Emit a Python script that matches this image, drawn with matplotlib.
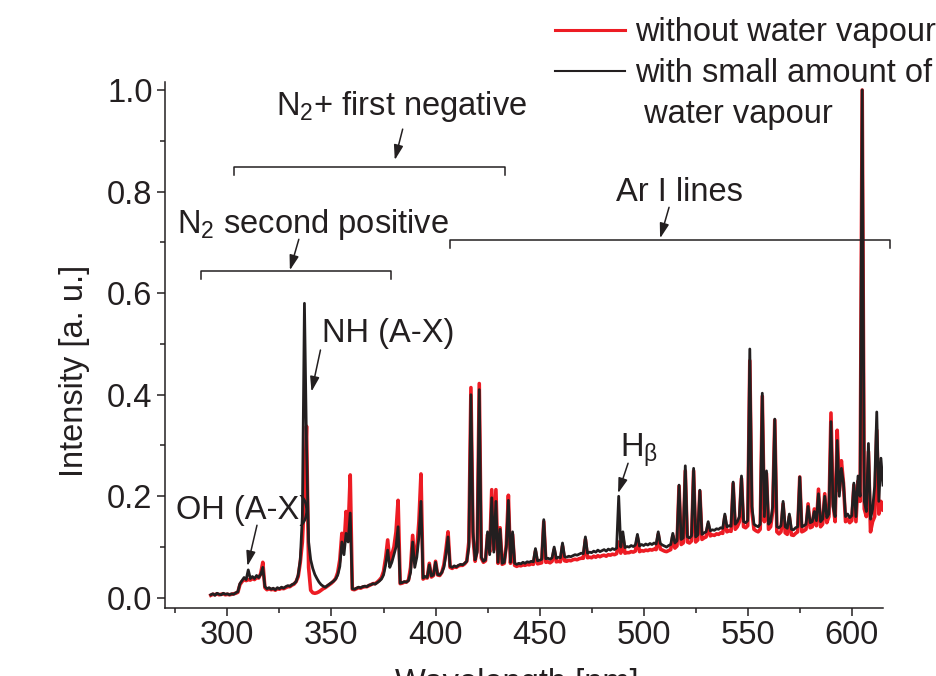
import numpy as np
import matplotlib
matplotlib.use("Agg")
import matplotlib.pyplot as plt
from matplotlib.lines import Line2D

plt.rcParams['font.family'] = ['Liberation Sans', 'DejaVu Sans']
plt.rcParams['mathtext.default'] = 'regular'

# spectra sampled every 1 nm from 292 to 615 nm
wavelength = np.arange(292, 616)

with_water = [
    0.006, 0.008, 0.005, 0.009, 0.007, 0.006, 0.009, 0.007, 0.008, 0.006,  # 292
    0.008, 0.007, 0.010, 0.012, 0.028, 0.034, 0.040, 0.036, 0.055, 0.038,  # 302
    0.042, 0.038, 0.044, 0.040, 0.046, 0.060, 0.022, 0.018, 0.020, 0.017,  # 312
    0.019, 0.016, 0.020, 0.018, 0.021, 0.019, 0.022, 0.024, 0.023, 0.026,  # 322
    0.028, 0.032, 0.045, 0.075, 0.160, 0.580, 0.300, 0.110, 0.075, 0.058,  # 332
    0.046, 0.038, 0.031, 0.026, 0.023, 0.021, 0.024, 0.027, 0.030, 0.033,  # 342
    0.037, 0.045, 0.062, 0.110, 0.085, 0.127, 0.110, 0.167, 0.018, 0.017,  # 352
    0.019, 0.021, 0.020, 0.022, 0.023, 0.022, 0.025, 0.026, 0.028, 0.027,  # 362
    0.030, 0.033, 0.037, 0.045, 0.065, 0.094, 0.060, 0.070, 0.085, 0.100,  # 372
    0.140, 0.029, 0.030, 0.032, 0.031, 0.034, 0.050, 0.110, 0.060, 0.080,  # 382
    0.120, 0.190, 0.039, 0.042, 0.040, 0.065, 0.043, 0.045, 0.070, 0.046,  # 392
    0.045, 0.050, 0.060, 0.085, 0.120, 0.062, 0.060, 0.063, 0.061, 0.064,  # 402
    0.066, 0.065, 0.068, 0.072, 0.100, 0.400, 0.130, 0.075, 0.090, 0.410,  # 412
    0.080, 0.072, 0.075, 0.130, 0.085, 0.197, 0.090, 0.190, 0.070, 0.135,  # 422
    0.068, 0.070, 0.100, 0.192, 0.070, 0.130, 0.068, 0.066, 0.068, 0.067,  # 432
    0.070, 0.068, 0.071, 0.070, 0.072, 0.071, 0.097, 0.073, 0.074, 0.076,  # 442
    0.154, 0.077, 0.078, 0.076, 0.079, 0.100, 0.078, 0.080, 0.079, 0.108,  # 452
    0.081, 0.080, 0.082, 0.081, 0.083, 0.085, 0.084, 0.086, 0.088, 0.087,  # 462
    0.120, 0.088, 0.090, 0.089, 0.092, 0.090, 0.094, 0.091, 0.093, 0.095,  # 472
    0.092, 0.096, 0.094, 0.097, 0.095, 0.098, 0.200, 0.100, 0.130, 0.099,  # 482
    0.101, 0.100, 0.103, 0.101, 0.104, 0.125, 0.102, 0.105, 0.103, 0.106,  # 492
    0.104, 0.107, 0.105, 0.108, 0.106, 0.130, 0.107, 0.104, 0.102, 0.100,  # 502
    0.103, 0.105, 0.127, 0.108, 0.112, 0.222, 0.115, 0.118, 0.260, 0.120,  # 512
    0.118, 0.122, 0.255, 0.120, 0.124, 0.212, 0.125, 0.128, 0.130, 0.150,  # 522
    0.132, 0.134, 0.133, 0.136, 0.135, 0.138, 0.137, 0.165, 0.140, 0.142,  # 532
    0.141, 0.228, 0.145, 0.150, 0.160, 0.240, 0.150, 0.148, 0.152, 0.490,  # 542
    0.180, 0.145, 0.142, 0.140, 0.145, 0.403, 0.160, 0.250, 0.145, 0.150,  # 552
    0.180, 0.352, 0.140, 0.138, 0.142, 0.190, 0.140, 0.137, 0.165, 0.135,  # 562
    0.134, 0.138, 0.140, 0.238, 0.140, 0.142, 0.145, 0.180, 0.148, 0.150,  # 572
    0.170, 0.152, 0.205, 0.150, 0.155, 0.200, 0.158, 0.165, 0.347, 0.180,  # 582
    0.160, 0.310, 0.200, 0.255, 0.226, 0.160, 0.165, 0.158, 0.162, 0.226,  # 592
    0.160, 0.240, 0.200, 1.000, 0.190, 0.170, 0.304, 0.155, 0.175, 0.220,  # 602
    0.366, 0.190, 0.275, 0.222,                                            # 612
]

without_water = [
    0.005, 0.007, 0.006, 0.008, 0.006, 0.007, 0.008, 0.006, 0.007, 0.006,  # 292
    0.007, 0.008, 0.009, 0.011, 0.026, 0.032, 0.036, 0.034, 0.036, 0.035,  # 302
    0.038, 0.036, 0.040, 0.039, 0.048, 0.070, 0.020, 0.016, 0.018, 0.016,  # 312
    0.017, 0.015, 0.018, 0.017, 0.019, 0.018, 0.020, 0.022, 0.022, 0.025,  # 322
    0.027, 0.032, 0.042, 0.070, 0.110, 0.200, 0.338, 0.060, 0.015, 0.010,  # 332
    0.009, 0.010, 0.012, 0.015, 0.018, 0.020, 0.023, 0.026, 0.029, 0.033,  # 342
    0.038, 0.050, 0.075, 0.127, 0.100, 0.170, 0.130, 0.242, 0.017, 0.016,  # 352
    0.018, 0.020, 0.019, 0.021, 0.022, 0.022, 0.024, 0.026, 0.028, 0.028,  # 362
    0.031, 0.035, 0.040, 0.052, 0.078, 0.114, 0.070, 0.085, 0.100, 0.130,  # 372
    0.192, 0.028, 0.029, 0.031, 0.031, 0.035, 0.060, 0.123, 0.070, 0.095,  # 382
    0.150, 0.244, 0.037, 0.040, 0.039, 0.068, 0.041, 0.044, 0.072, 0.045,  # 392
    0.044, 0.050, 0.065, 0.095, 0.130, 0.060, 0.058, 0.061, 0.060, 0.063,  # 402
    0.064, 0.064, 0.067, 0.072, 0.110, 0.414, 0.120, 0.072, 0.095, 0.422,  # 412
    0.078, 0.070, 0.073, 0.125, 0.090, 0.213, 0.095, 0.213, 0.068, 0.138,  # 422
    0.066, 0.068, 0.105, 0.202, 0.068, 0.125, 0.064, 0.062, 0.064, 0.063,  # 432
    0.065, 0.064, 0.066, 0.065, 0.067, 0.066, 0.092, 0.067, 0.068, 0.069,  # 442
    0.150, 0.070, 0.071, 0.069, 0.072, 0.095, 0.071, 0.072, 0.071, 0.102,  # 452
    0.073, 0.072, 0.074, 0.073, 0.075, 0.076, 0.075, 0.077, 0.078, 0.078,  # 462
    0.115, 0.079, 0.080, 0.079, 0.082, 0.080, 0.083, 0.081, 0.083, 0.084,  # 472
    0.082, 0.085, 0.084, 0.086, 0.085, 0.087, 0.110, 0.088, 0.120, 0.088,  # 482
    0.089, 0.089, 0.091, 0.090, 0.092, 0.118, 0.091, 0.093, 0.092, 0.094,  # 492
    0.093, 0.095, 0.094, 0.096, 0.095, 0.125, 0.096, 0.094, 0.092, 0.091,  # 502
    0.093, 0.095, 0.122, 0.098, 0.102, 0.220, 0.105, 0.108, 0.250, 0.110,  # 512
    0.108, 0.112, 0.250, 0.110, 0.114, 0.210, 0.115, 0.118, 0.120, 0.145,  # 522
    0.122, 0.124, 0.123, 0.126, 0.125, 0.128, 0.127, 0.160, 0.130, 0.132,  # 532
    0.131, 0.225, 0.135, 0.140, 0.150, 0.235, 0.140, 0.138, 0.142, 0.467,  # 542
    0.170, 0.135, 0.132, 0.130, 0.135, 0.397, 0.150, 0.245, 0.135, 0.140,  # 552
    0.170, 0.350, 0.130, 0.126, 0.130, 0.185, 0.128, 0.125, 0.160, 0.124,  # 562
    0.123, 0.127, 0.130, 0.238, 0.130, 0.132, 0.135, 0.185, 0.138, 0.140,  # 572
    0.175, 0.142, 0.214, 0.140, 0.145, 0.205, 0.148, 0.160, 0.364, 0.185,  # 582
    0.150, 0.330, 0.210, 0.270, 0.226, 0.150, 0.155, 0.148, 0.152, 0.222,  # 592
    0.150, 0.230, 0.190, 1.000, 0.175, 0.160, 0.288, 0.130, 0.150, 0.160,  # 602
    0.330, 0.165, 0.190, 0.173,                                            # 612
]

series_labels = ["without water vapour", "with small amount of", " water vapour"]

# band brackets: (start nm, end nm, height)
n2_second = (287.2, 378.5, 0.644)
n2_first = (303.0, 433.3, 0.848)
ar_lines = (406.9, 618.4, 0.705)

RED = '#ed1c24'
BLACK = '#231f20'
FS = 23.5

fig = plt.figure(figsize=(9.36, 6.76), dpi=100)
ax = fig.add_axes([165 / 936, 68 / 676, 718 / 936, 525.6 / 676])

ax.plot(wavelength, without_water, color=RED, lw=2.6)
ax.plot(wavelength, with_water, color=BLACK, lw=2.0)

ax.set_xlim(270, 615)
ax.set_ylim(-0.02, 1.015)
ax.set_xticks([300, 350, 400, 450, 500, 550, 600])
ax.set_xticks([275, 325, 375, 425, 475, 525, 575], minor=True)
ax.set_yticks([0.0, 0.2, 0.4, 0.6, 0.8, 1.0])
ax.set_yticks([0.1, 0.3, 0.5, 0.7, 0.9], minor=True)
ax.set_yticklabels(['0.0', '0.2', '0.4', '0.6', '0.8', '1.0'])
for s in ['top', 'right']:
    ax.spines[s].set_visible(False)
for s in ['left', 'bottom']:
    ax.spines[s].set_linewidth(1.1)
    ax.spines[s].set_color(BLACK)
ax.tick_params(which='major', direction='out', length=6, width=1.1,
               labelsize=FS, colors=BLACK, pad=3)
ax.tick_params(which='minor', direction='out', length=3.5, width=1.1, colors=BLACK)

ax.set_ylabel('Intensity [a. u.]', fontsize=FS, color=BLACK)
ax.yaxis.set_label_coords(-0.105, 0.452)
ax.set_xlabel('Wavelength [nm]', fontsize=FS, color=BLACK)
ax.xaxis.set_label_coords(0.49, -0.114)

# brackets for the band systems
for lo, hi, h in [n2_second, n2_first, ar_lines]:
    ax.plot([lo, lo, hi, hi], [h - 0.016, h, h, h - 0.016], color=BLACK,
            lw=1.1, clip_on=False)

arrow = dict(arrowstyle='-|>,head_length=0.45,head_width=0.14', color=BLACK,
             lw=1.1, shrinkA=0, shrinkB=0, mutation_scale=20)

ax.text(383.6, 0.951, 'N$_2$+ first negative', ha='center', va='baseline',
        fontsize=FS, color=BLACK)
ax.annotate('', xy=(380.4, 0.862), xytext=(384.2, 0.923), arrowprops=arrow)

ax.text(341.0, 0.718, 'N$_2$ second positive', ha='center', va='baseline',
        fontsize=FS, color=BLACK)
ax.annotate('', xy=(330.0, 0.645), xytext=(334.3, 0.706), arrowprops=arrow)

ax.text(517.0, 0.782, 'Ar I lines', ha='center', va='baseline',
        fontsize=FS, color=BLACK)
ax.annotate('', xy=(507.9, 0.708), xytext=(512.2, 0.769), arrowprops=arrow)

ax.text(307.4, 0.156, 'OH (A-X)', ha='center', va='baseline',
        fontsize=FS, color=BLACK)
ax.annotate('', xy=(309.6, 0.0625), xytext=(314.2, 0.143), arrowprops=arrow)

ax.text(345.2, 0.504, 'NH (A-X)', ha='left', va='baseline',
        fontsize=FS, color=BLACK)
ax.annotate('', xy=(340.4, 0.406), xytext=(344.7, 0.488), arrowprops=arrow)

ax.text(488.7, 0.278, 'H$_{β}$', ha='left', va='baseline',
        fontsize=FS, color=BLACK)
ax.annotate('', xy=(487.7, 0.206), xytext=(492.5, 0.265), arrowprops=arrow)

handles = [Line2D([], [], color=RED, lw=2.2),
           Line2D([], [], color=BLACK, lw=1.5),
           Line2D([], [], linestyle='none')]
fig.legend(handles, series_labels, loc='upper left',
           bbox_to_anchor=(555 / 936, 1 - 17 / 676), frameon=False,
           fontsize=FS, handlelength=2.15, handletextpad=0.3,
           labelspacing=0.31, borderpad=0, borderaxespad=0,
           labelcolor=BLACK)

fig.savefig('out.png', dpi=100)
